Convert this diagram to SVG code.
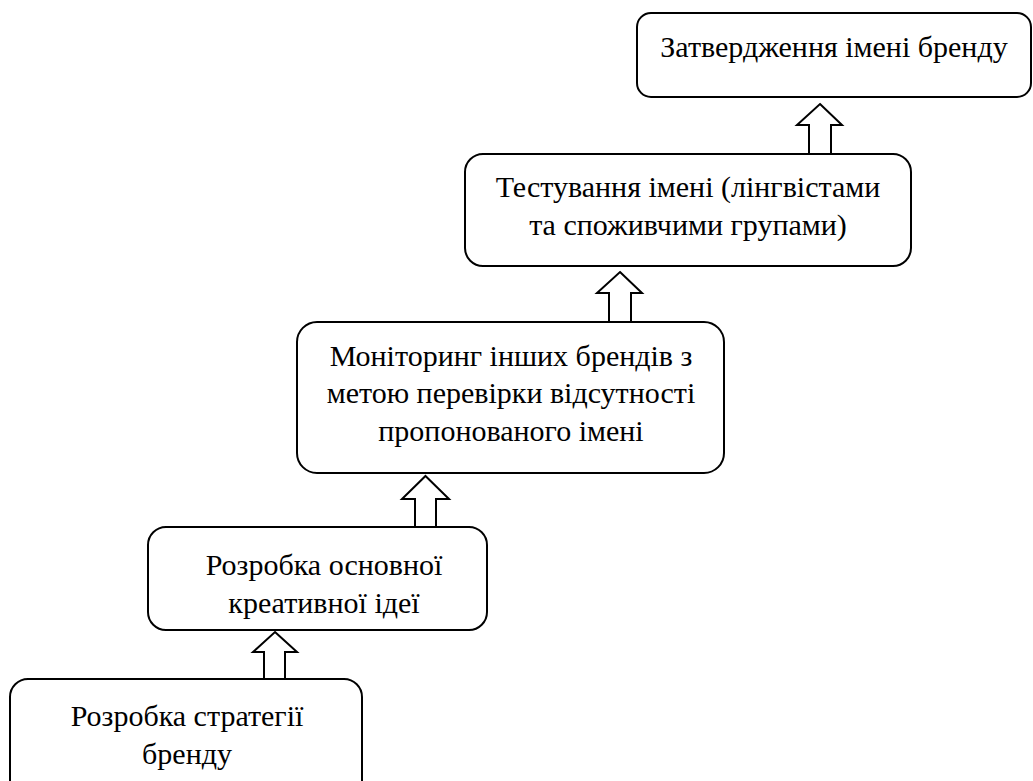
<svg xmlns="http://www.w3.org/2000/svg" width="1033" height="781" viewBox="0 0 1033 781">
<style>
.box{fill:#fff;stroke:#000;stroke-width:2}
.arr{fill:#fff;stroke:#000;stroke-width:2;stroke-linejoin:miter}
text{font-family:"Liberation Serif","Times New Roman",serif;font-size:30px;fill:#000;text-anchor:middle}
</style>
<rect width="1033" height="781" fill="#fff"/>
<g id="connectors">
<polygon class="arr" points="275,632 297,652 285,652 285,679 264,679 264,652 253,652"/>
<polygon class="arr" points="425.5,476 449,499 436,499 436,527 415,527 415,499 402,499"/>
<polygon class="arr" points="620,272 642,293 631,293 631,322 609,322 609,293 597,293"/>
<polygon class="arr" points="820,104 842,125 831,125 831,154 809,154 809,125 797,125"/>
</g>
<g id="n1">
<rect class="box" x="10" y="679" width="352" height="120" rx="18"/>
<text x="187" y="726">Розробка стратегії</text>
<text x="187" y="764">бренду</text>
</g>
<g id="n2">
<rect class="box" x="148" y="527" width="339" height="103" rx="18"/>
<text x="324" y="575">Розробка основної</text>
<text x="324" y="613">креативної ідеї</text>
</g>
<g id="n3">
<rect class="box" x="297" y="322" width="427" height="151" rx="20"/>
<text x="511" y="366">Моніторинг інших брендів з</text>
<text x="511" y="403">метою перевірки відсутності</text>
<text x="511" y="441">пропонованого імені</text>
</g>
<g id="n4">
<rect class="box" x="465" y="154" width="446" height="112" rx="18"/>
<text x="688" y="197">Тестування імені (лінгвістами</text>
<text x="688" y="235">та споживчими групами)</text>
</g>
<g id="n5">
<rect class="box" x="637" y="13" width="394" height="84" rx="14"/>
<text x="834" y="57">Затвердження імені бренду</text>
</g>
</svg>
